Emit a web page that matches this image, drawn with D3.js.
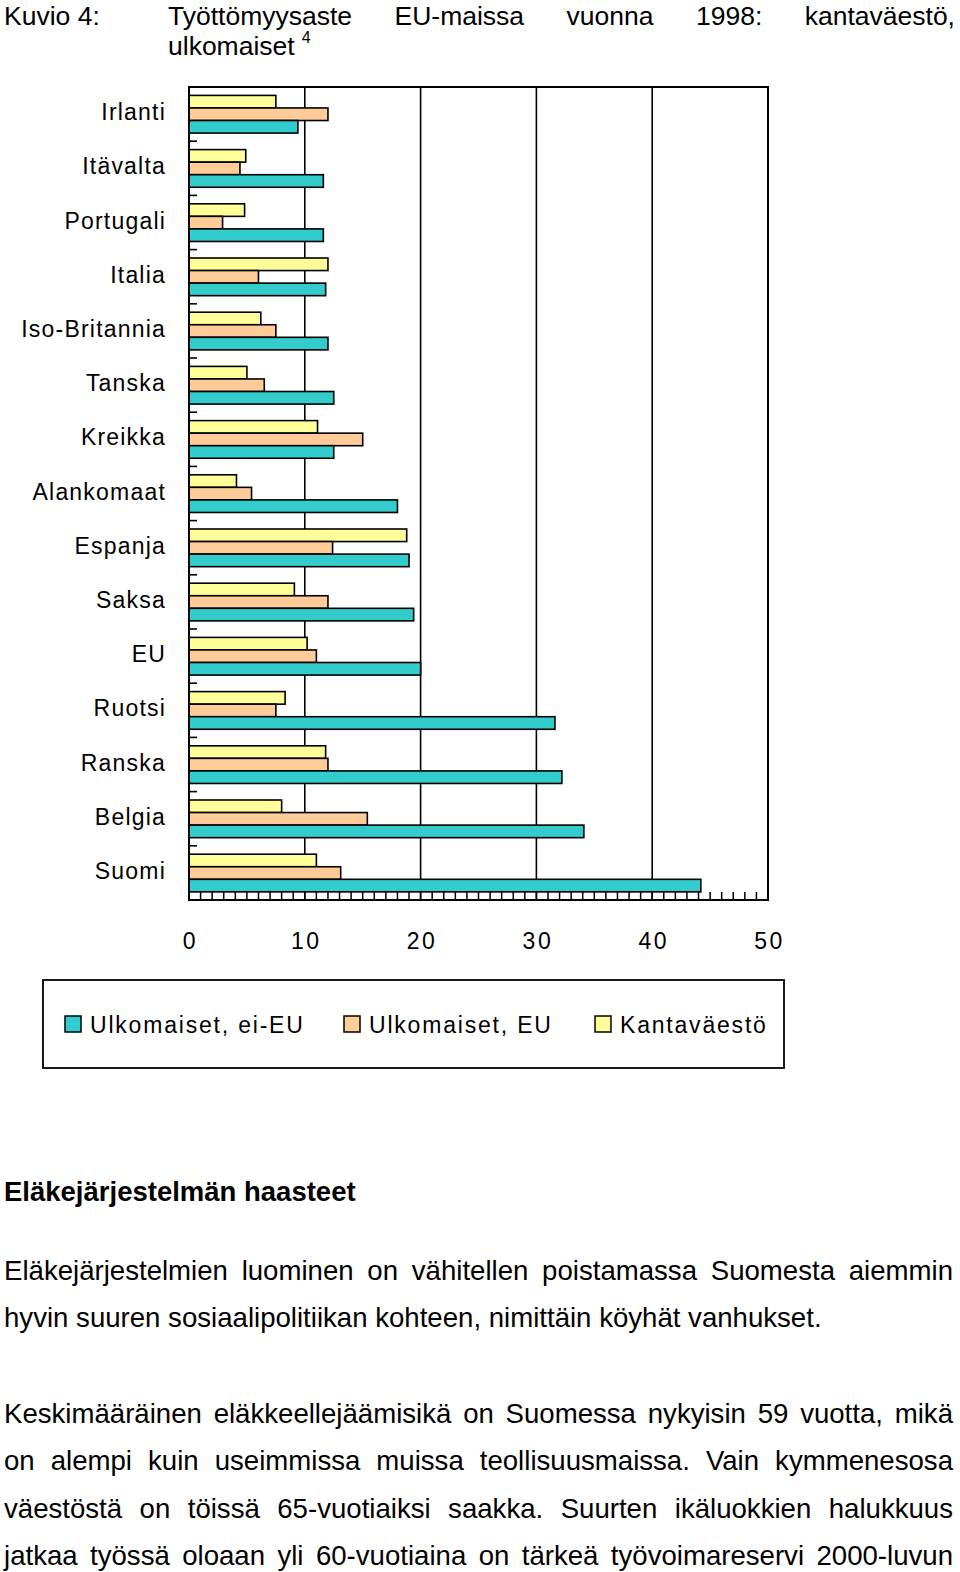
<!DOCTYPE html>
<html>
<head>
<meta charset="utf-8">
<script src="https://cdn.jsdelivr.net/npm/d3@7"></script>
<style>
  html, body { margin: 0; padding: 0; background: #fff; }
  svg { display: block; font-family: "Liberation Sans", Arial, Helvetica, sans-serif; }
</style>
</head>
<body>
<svg id="chart" width="960" height="1572"></svg>
<script>
// ---- Data ----
const categories = ["Irlanti","Itävalta","Portugali","Italia","Iso-Britannia","Tanska","Kreikka","Alankomaat","Espanja","Saksa","EU","Ruotsi","Ranska","Belgia","Suomi"];
const seriesNames = ["Kantaväestö","Ulkomaiset, EU","Ulkomaiset, ei-EU"];
const kantavaesto = [7.5, 4.9, 4.8, 12.0, 6.2, 5.0, 11.1, 4.1, 18.8, 9.1, 10.2, 8.3, 11.8, 8.0, 11.0];
const ulkomaisetEU = [12.0, 4.4, 2.9, 6.0, 7.5, 6.5, 15.0, 5.4, 12.4, 12.0, 11.0, 7.5, 12.0, 15.4, 13.1];
const ulkomaisetEiEU = [9.4, 11.6, 11.6, 11.8, 12.0, 12.5, 12.5, 18.0, 19.0, 19.4, 20.0, 31.6, 32.2, 34.1, 44.2];
const xTickValues = [0, 10, 20, 30, 40, 50];
const legendOrder = ["Ulkomaiset, ei-EU","Ulkomaiset, EU","Kantaväestö"];

const titleLabel = "Kuvio 4:";
const titleLine1 = "Työttömyysaste EU-maissa vuonna 1998: kantaväestö,";
const titleLine2 = "ulkomaiset";
const titleSup = "4";
const heading = "Eläkejärjestelmän haasteet";
const para1 = ["Eläkejärjestelmien luominen on vähitellen poistamassa Suomesta aiemmin",
               "hyvin suuren sosiaalipolitiikan kohteen, nimittäin köyhät vanhukset."];
const para2 = ["Keskimääräinen eläkkeellejäämisikä on Suomessa nykyisin 59 vuotta, mikä",
               "on alempi kuin useimmissa muissa teollisuusmaissa. Vain kymmenesosa",
               "väestöstä on töissä 65-vuotiaiksi saakka. Suurten ikäluokkien halukkuus",
               "jatkaa työssä oloaan yli 60-vuotiaina on tärkeä työvoimareservi 2000-luvun"];

const seriesValues = {"Kantaväestö": kantavaesto, "Ulkomaiset, EU": ulkomaisetEU, "Ulkomaiset, ei-EU": ulkomaisetEiEU};
const colors = {"Kantaväestö": "#FFFF99", "Ulkomaiset, EU": "#FFCC99", "Ulkomaiset, ei-EU": "#33CCCC"};

// ---- Layout ----
const svg = d3.select("#chart");
svg.append("rect").attr("width", 960).attr("height", 1572).attr("fill", "#fff");

const plot = {left: 189, right: 768, top: 87, bottom: 900};
const x = d3.scaleLinear().domain([0, 50]).range([plot.left, plot.right]);
const y = d3.scaleBand().domain(categories).range([plot.top, plot.bottom]).padding(0);
const bw = y.bandwidth();
const ySub = d3.scaleBand().domain(seriesNames).range([bw * 0.155, bw * 0.85]).padding(0);

const g = svg.append("g");

// gridlines
g.selectAll("line.grid").data([10, 20, 30, 40]).join("line")
  .attr("x1", d => x(d)).attr("x2", d => x(d))
  .attr("y1", plot.top).attr("y2", plot.bottom)
  .attr("stroke", "#000").attr("stroke-width", 1.6);

// bars
const rows = categories.map((c, i) => ({cat: c, vals: seriesNames.map(s => ({s, v: seriesValues[s][i]}))}));
const rowG = g.selectAll("g.row").data(rows).join("g")
  .attr("transform", d => `translate(0,${y(d.cat)})`);
rowG.selectAll("rect").data(d => d.vals).join("rect")
  .attr("x", x(0))
  .attr("y", d => ySub(d.s))
  .attr("width", d => x(d.v) - x(0))
  .attr("height", ySub.bandwidth())
  .attr("fill", d => colors[d.s])
  .attr("stroke", "#000").attr("stroke-width", 1.6);

// left category ticks (band boundaries)
g.selectAll("line.ytick").data(categories.slice(1)).join("line")
  .attr("x1", plot.left).attr("x2", plot.left + 8)
  .attr("y1", d => y(d)).attr("y2", d => y(d))
  .attr("stroke", "#000").attr("stroke-width", 1.6);

// bottom minor ticks
g.selectAll("line.minor").data(d3.range(0, 51)).join("line")
  .attr("x1", d => x(d)).attr("x2", d => x(d))
  .attr("y1", plot.bottom).attr("y2", plot.bottom - 8)
  .attr("stroke", "#000").attr("stroke-width", 1.5);

// frame
g.append("rect").attr("x", plot.left).attr("y", plot.top)
  .attr("width", plot.right - plot.left).attr("height", plot.bottom - plot.top)
  .attr("fill", "none").attr("stroke", "#000").attr("stroke-width", 2);

// category labels
g.selectAll("text.cat").data(categories).join("text")
  .attr("x", 166).attr("y", d => y(d) + bw / 2 - 2).attr("dy", "0.35em")
  .attr("text-anchor", "end").attr("font-size", 23).attr("letter-spacing", 1.2)
  .attr("fill", "#000").text(d => d);

// x tick labels
g.selectAll("text.xt").data(xTickValues).join("text")
  .attr("x", d => x(d) + 1.5).attr("y", 941).attr("dy", "0.35em")
  .attr("text-anchor", "middle").attr("font-size", 23).attr("letter-spacing", 2.5)
  .attr("fill", "#000").text(d => d);

// legend
svg.append("rect").attr("x", 43).attr("y", 980).attr("width", 741).attr("height", 88)
  .attr("fill", "none").attr("stroke", "#000").attr("stroke-width", 1.8);
const legendX = [65, 344, 595];
const lg = svg.selectAll("g.leg").data(legendOrder).join("g")
  .attr("transform", (d, i) => `translate(${legendX[i]},1016)`);
lg.append("rect").attr("width", 16).attr("height", 16)
  .attr("fill", d => colors[d]).attr("stroke", "#000").attr("stroke-width", 1.5);
lg.append("text").attr("x", 25).attr("y", 9).attr("dy", "0.35em")
  .attr("font-size", 23).attr("letter-spacing", 1.8).attr("fill", "#000").text(d => d);

// ---- Text helpers ----
function textLine(str, x0, yb, size, weight) {
  return svg.append("text").attr("x", x0).attr("y", yb).attr("font-size", size)
    .attr("font-weight", weight || "normal").attr("fill", "#000").text(str);
}
function justifyLine(str, x0, x1, yb, size, weight) {
  const words = str.split(" ");
  const els = words.map(w => textLine(w, 0, yb, size, weight));
  const widths = els.map(e => e.node().getComputedTextLength());
  const total = widths.reduce((a, b) => a + b, 0);
  const gap = (x1 - x0 - total) / (words.length - 1);
  let cx = x0;
  els.forEach((e, i) => { e.attr("x", cx); cx += widths[i] + gap; });
}

// title
const TS = 26.5;
textLine(titleLabel, 4, 25, TS);
justifyLine(titleLine1, 168, 955, 25, TS);
const t2 = textLine(titleLine2, 168, 55, TS);
const t2w = t2.node().getComputedTextLength();
textLine(titleSup, 168 + t2w + 7, 43, 16);

// heading
textLine(heading, 4, 1201, 27.5, "bold");

// paragraphs
const PS = 27.6;
justifyLine(para1[0], 4, 953, 1280, PS);
textLine(para1[1], 4, 1327, PS);
const p2y = [1423, 1470, 1518, 1565];
para2.forEach((l, i) => justifyLine(l, 4, 953, p2y[i], PS));
</script>
</body>
</html>
